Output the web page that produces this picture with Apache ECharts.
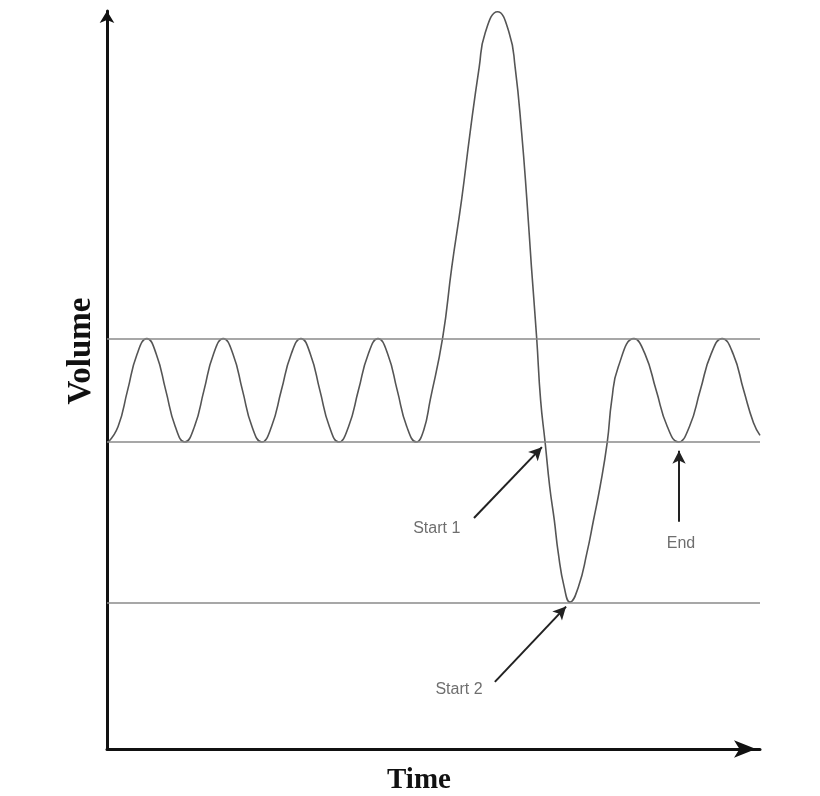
<!DOCTYPE html>
<html>
<head>
<meta charset="utf-8">
<script src="https://cdn.jsdelivr.net/npm/echarts@6/dist/echarts.min.js"></script>
<style>
html,body{margin:0;padding:0;background:#fff;}
#chart{width:820px;height:796px;}
</style>
</head>
<body>
<div id="chart"></div>
<script>
// Time (x, 0..100) and Volume (y, 0..100)
const time = [
  0.2, 1.7, 3.15, 4.6, 6.1, 7.55, 9.0, 10.45, 11.9, 13.4, 14.85, 16.3, 17.8,
  19.3, 20.75, 22.2, 23.7, 25.2, 26.7, 28.2, 29.7, 31.15, 32.6, 34.05, 35.5,
  37.0, 38.5, 40.0, 41.5, 43.0, 44.45, 45.9, 47.4,
  48.5, 49.5, 51.4, 52.8, 54.3, 55.6, 57.0, 57.9, 59.8, 61.6, 62.5, 63.5,
  64.3, 65.0, 65.8, 66.4, 67.1, 67.8, 68.5, 69.1, 70.0, 70.9, 72.2, 73.5,
  74.5, 75.5, 76.6, 77.3, 78.3, 80.7,
  82.4, 84.1, 85.8, 87.5, 89.2, 90.85, 92.5, 94.2, 95.9, 97.5, 99.0, 100
];
const volume = [
  41.6, 43.7, 48.6, 53.5, 55.6, 53.5, 48.6, 43.7, 41.6, 43.7, 48.6, 53.5, 55.6,
  53.5, 48.6, 43.7, 41.6, 43.7, 48.6, 53.5, 55.6, 53.5, 48.6, 43.7, 41.6,
  43.7, 48.6, 53.5, 55.6, 53.5, 48.6, 43.7, 41.6,
  43.2, 47.3, 55.7, 65.3, 74.4, 83.5, 92.4, 97.0, 99.9, 97.0, 92.4, 83.5,
  74.4, 65.3, 55.7, 47.3, 41.5, 35.5, 31.0, 26.6, 22.0, 19.9, 22.0, 26.6,
  31.0, 35.5, 41.5, 47.3, 51.8, 55.6,
  53.5, 48.6, 43.7, 41.6, 43.7, 48.6, 53.5, 55.6, 53.5, 48.6, 44.2, 42.5
];
// Reference levels (Volume)
const levels = [55.6, 41.6, 19.8];
// Annotations
const annotationNames = ['Start 1', 'Start 2', 'End'];
const annotationText = [[50.5, 29.8], [53.9, 8.1], [87.9, 27.9]];
const arrowTails = [[56.2, 31.3], [59.4, 9.1], [87.6, 30.8]];
const arrowTips = [[66.6, 40.9], [70.3, 19.3], [87.6, 40.4]];

const curve = time.map((t, i) => [t, volume[i]]);

const chart = echarts.init(document.getElementById('chart'), null, {renderer: 'canvas'});
chart.setOption({
  animation: false,
  backgroundColor: '#fff',
  grid: {left: 107, right: 60, top: 11, bottom: 47, containLabel: false},
  xAxis: {
    type: 'value', min: 0, max: 100,
    axisLine: {show: true, lineStyle: {color: '#111', width: 3},
      symbol: ['none', 'arrow'], symbolSize: [13, 22], symbolOffset: [0, -4]},
    axisTick: {show: false}, axisLabel: {show: false}, splitLine: {show: false}
  },
  yAxis: {
    type: 'value', min: 0, max: 100,
    axisLine: {show: true, lineStyle: {color: '#111', width: 3},
      symbol: ['none', 'arrow'], symbolSize: [11, 12]},
    axisTick: {show: false}, axisLabel: {show: false}, splitLine: {show: false}
  },
  graphic: [
    {type: 'text', x: 81, y: 351, rotation: Math.PI / 2,
      style: {text: 'Volume', font: 'bold 33px "Liberation Serif"', fill: '#111',
        textAlign: 'center', textVerticalAlign: 'middle'}},
    {type: 'text', x: 419, y: 781,
      style: {text: 'Time', font: 'bold 29px "Liberation Serif"', fill: '#111',
        textAlign: 'center', textVerticalAlign: 'middle'}}
  ],
  series: [
    {
      type: 'line', data: curve, smooth: 0.5, showSymbol: false, silent: true,
      lineStyle: {color: '#555', width: 1.6},
      markLine: {
        silent: true, symbol: 'none', animation: false,
        label: {show: false},
        lineStyle: {color: '#8a8a8a', width: 1.6, type: 'solid'},
        data: levels.map(v => ({yAxis: v}))
      }
    },
    {
      type: 'line', data: [], silent: true,
      markLine: {
        silent: true, symbol: ['none', 'arrow'], symbolSize: [10, 13], animation: false,
        label: {show: false},
        lineStyle: {color: '#222', width: 2, type: 'solid'},
        data: arrowTails.map((p, i) => [{coord: p}, {coord: arrowTips[i]}])
      }
    },
    {
      type: 'scatter', silent: true, symbolSize: 1,
      itemStyle: {color: 'rgba(0,0,0,0)'},
      data: annotationText.map((p, i) => ({value: p, name: annotationNames[i]})),
      label: {show: true, position: 'inside', formatter: '{b}',
        fontFamily: '"Liberation Sans"', fontSize: 16, color: '#4a4a4a'}
    }
  ]
});
</script>
</body>
</html>
